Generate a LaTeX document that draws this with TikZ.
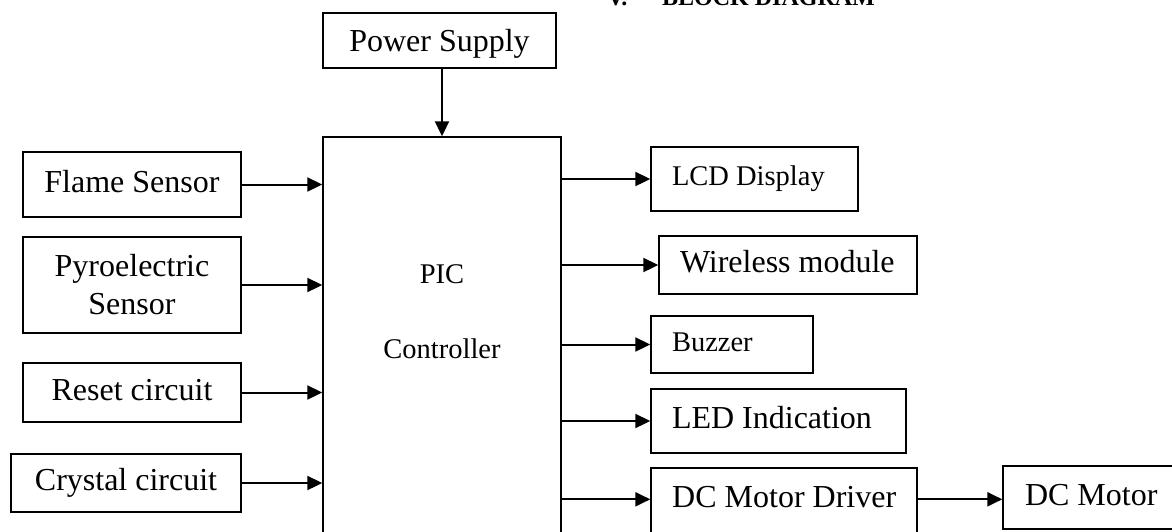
\documentclass[tikz,border=0pt]{standalone}
\usepackage{fontspec}
\setmainfont{Liberation Serif}
\usetikzlibrary{arrows.meta}
\begin{document}
\begin{tikzpicture}[x=1pt,y=-1pt,
  fbig/.style={font=\fontsize{32}{38}\selectfont},
  big/.style={fbig, text height=22.4pt, text depth=7pt},
  small/.style={font=\fontsize{28.5}{34}\selectfont, text height=20pt, text depth=6.3pt},
  box/.style={draw, line width=1.4pt, inner sep=0pt, align=center},
  rbox/.style={draw, line width=1.4pt, inner ysep=0pt, inner xsep=21pt},
  arr/.style={line width=2pt, -{Triangle[length=15pt,width=14pt]}},
  lbl/.style={inner sep=0pt}
]
\useasboundingbox (0,0) rectangle (1172,531);

% title (cut at the top)
\node[anchor=base west, inner sep=0pt, font=\fontsize{24}{28}\selectfont\bfseries] (tnum) at (607,5) {V.};
\node[anchor=base west, inner sep=0pt, font=\fontsize{24}{28}\selectfont\bfseries] (title) at (662,5) {BLOCK DIAGRAM};

% power supply
\node[box, big, text depth=1pt, minimum width=233pt, minimum height=55pt] (power) at (439.5,40.5) {Power Supply};

% PIC controller
\node[draw, line width=1.4pt, minimum width=238pt, minimum height=423pt, inner sep=0pt] (pic) at (442,348.5) {};
\node[lbl, small, anchor=base] (piclbl) at (442,283) {PIC};
\node[lbl, small, anchor=base] (ctrllbl) at (442,358) {Controller};

% inputs
\node[box, big, minimum width=218pt, minimum height=65pt] (flame) at (132,184.5) {Flame Sensor};
\node[box, fbig, minimum width=218pt, minimum height=96pt] (pyro) at (132,285) {Pyroelectric\\Sensor};
\node[box, big, minimum width=218pt, minimum height=59pt] (reset) at (132,392.5) {Reset circuit};
\node[box, big, minimum width=230pt, minimum height=58pt] (crystal) at (126,483) {Crystal circuit};

% outputs
\node[rbox, small, minimum height=64pt] (lcd) at (754.5,179) {\makebox[165pt][l]{LCD Display}};
\node[rbox, big, minimum height=58pt] (wireless) at (788,265) {\makebox[216pt][l]{Wireless module}};
\node[rbox, small, minimum height=57pt] (buzzer) at (732,344.5) {\makebox[120pt][l]{Buzzer}};
\node[rbox, big, minimum height=64pt] (led) at (778.5,421) {\makebox[213pt][l]{LED Indication}};
\node[draw, line width=1.4pt, minimum width=266pt, minimum height=92pt, inner sep=0pt] (driver) at (784,514) {};
\node[lbl, big, anchor=base west] (drvlbl) at (672,507) {DC Motor Driver};
\node[rbox, big, inner xsep=22pt, minimum height=63pt] (motor) at (1091.5,497.5) {\makebox[133pt][l]{DC Motor}};

% connectors
\draw[arr] (power.south -| pic.north) -- (pic.north);
\foreach \n in {flame,pyro,reset,crystal}
  \draw[arr] (\n.east) -- (\n.east -| pic.west);
\foreach \n in {lcd,wireless,buzzer,led}
  \draw[arr] (pic.east |- \n.west) -- (\n.west);
\draw[arr] (pic.east |- drvlbl) -- (driver.west |- drvlbl);
\draw[arr] (driver.east |- drvlbl) -- (motor.west |- drvlbl);
\end{tikzpicture}
\end{document}
